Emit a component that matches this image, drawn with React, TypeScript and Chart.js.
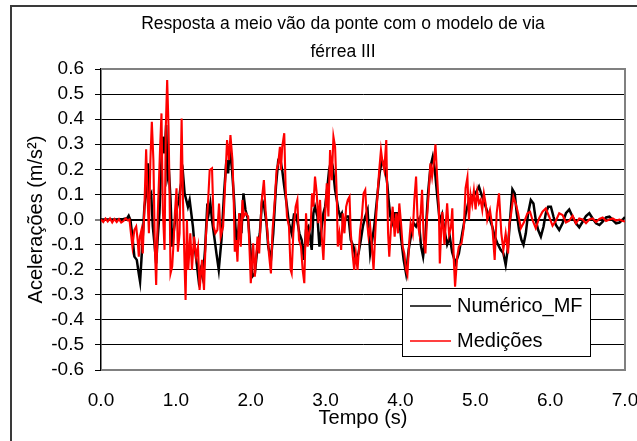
import React, { useEffect, useRef } from "react";
import { Chart, registerables } from "chart.js";

Chart.register(...registerables);

const FONT = "'Liberation Sans', Arial, Helvetica, sans-serif";

const titleLines = ["Resposta a meio vão da ponte com o modelo de via", "férrea III"];
const xAxisTitle = "Tempo (s)";
const yAxisTitle = "Acelerações (m/s²)";
const seriesNames = ["Numérico_MF", "Medições"];
const seriesColors = ["#000000", "#ff0000"];
const xRange = [0, 7];
const yRange = [-0.6, 0.6];

// [time (s), acceleration (m/s2)]
const numericoPts: [number, number][] = [
  [0.0, 0.0], [0.1, 0.0], [0.2, 0.0], [0.3, 0.002], [0.35, 0.005], [0.37, 0.015], [0.393, -0.002],
  [0.415, -0.055], [0.446, -0.148], [0.478, -0.161], [0.504, -0.215], [0.522, -0.248], [0.54, -0.161],
  [0.558, -0.068], [0.58, 0.051], [0.603, 0.104], [0.625, 0.224], [0.647, 0.091], [0.67, 0.104],
  [0.692, -0.028], [0.714, -0.095], [0.737, -0.175], [0.759, -0.068], [0.781, 0.025], [0.804, 0.211],
  [0.826, 0.33], [0.849, 0.264], [0.871, 0.377], [0.889, 0.171], [0.907, 0.197], [0.929, 0.078],
  [0.951, -0.108], [0.969, -0.055], [0.996, 0.012], [1.018, 0.051], [1.041, 0.078], [1.063, 0.131],
  [1.095, 0.184], [1.117, 0.104], [1.139, 0.078], [1.161, 0.051], [1.184, 0.078], [1.206, 0.025],
  [1.228, -0.028], [1.251, -0.108], [1.273, -0.161], [1.304, -0.241], [1.33, -0.2], [1.36, -0.235],
  [1.39, -0.12], [1.421, 0.064], [1.439, 0.025], [1.461, 0.064], [1.483, -0.002], [1.519, -0.082],
  [1.542, -0.135], [1.573, -0.201], [1.609, -0.082], [1.644, 0.104], [1.675, 0.237], [1.698, 0.184],
  [1.72, 0.284], [1.751, 0.197], [1.778, 0.078], [1.796, -0.028], [1.818, -0.108], [1.854, 0.025],
  [1.876, -0.055], [1.903, 0.104], [1.93, 0.038], [1.966, -0.002], [1.997, -0.121], [2.019, -0.228],
  [2.055, -0.215], [2.091, -0.108], [2.122, -0.055], [2.153, 0.078], [2.18, 0.051], [2.211, -0.015],
  [2.234, -0.108], [2.27, -0.161], [2.301, -0.055], [2.337, 0.131], [2.368, 0.237], [2.39, 0.25],
  [2.421, 0.197], [2.448, 0.131], [2.479, 0.064], [2.511, -0.015], [2.546, -0.055], [2.578, 0.02],
  [2.6, 0.02], [2.625, -0.01], [2.65, -0.055], [2.681, -0.082], [2.712, -0.161], [2.739, -0.042],
  [2.77, -0.028], [2.792, -0.068], [2.815, -0.121], [2.837, 0.025], [2.859, 0.051], [2.891, 0.012],
  [2.918, -0.108], [2.949, -0.028], [2.971, 0.025], [2.994, 0.051], [3.025, 0.131], [3.047, 0.197],
  [3.074, 0.237], [3.096, 0.211], [3.127, 0.118], [3.15, 0.078], [3.172, 0.038], [3.194, 0.012],
  [3.217, 0.025], [3.239, -0.028], [3.275, 0.012], [3.306, 0.012], [3.337, -0.082], [3.373, -0.108],
  [3.404, -0.161], [3.44, -0.135], [3.471, -0.082], [3.498, -0.028], [3.53, 0.012], [3.561, 0.038],
  [3.596, -0.135], [3.623, -0.082], [3.65, -0.028], [3.686, 0.078], [3.722, 0.184], [3.753, 0.237],
  [3.784, 0.211], [3.806, 0.184], [3.825, 0.14], [3.842, 0.078], [3.865, 0.012], [3.896, -0.015],
  [3.923, 0.025], [3.954, 0.025], [3.985, -0.002], [4.012, -0.082], [4.043, -0.161], [4.075, -0.215],
  [4.11, -0.121], [4.146, -0.055], [4.177, -0.015], [4.209, -0.028], [4.244, -0.002], [4.276, -0.108],
  [4.303, -0.148], [4.334, -0.068], [4.369, 0.104], [4.401, 0.21], [4.432, 0.25], [4.459, 0.2],
  [4.49, 0.1], [4.526, -0.01], [4.557, 0.02], [4.588, -0.042], [4.624, -0.1], [4.66, -0.07],
  [4.691, -0.13], [4.736, -0.175], [4.781, -0.135], [4.826, -0.055], [4.87, 0.02], [4.915, 0.078],
  [4.959, 0.091], [5.004, 0.104], [5.049, 0.131], [5.093, 0.09], [5.138, 0.051], [5.183, 0.011],
  [5.228, -0.029], [5.259, -0.068], [5.295, -0.095], [5.339, -0.121], [5.375, -0.135], [5.406, -0.181],
  [5.438, -0.108], [5.464, -0.002], [5.496, 0.12], [5.527, 0.104], [5.554, 0.025], [5.585, -0.042],
  [5.617, -0.082], [5.644, -0.101], [5.675, -0.055], [5.706, 0.025], [5.742, 0.078], [5.777, 0.064],
  [5.808, -0.002], [5.84, -0.042], [5.876, -0.068], [5.911, -0.029], [5.942, 0.025], [5.974, 0.051],
  [6.01, 0.051], [6.045, 0.011], [6.077, -0.022], [6.121, -0.042], [6.166, -0.015], [6.211, 0.025],
  [6.255, 0.04], [6.3, 0.011], [6.345, -0.015], [6.389, -0.031], [6.434, -0.009], [6.479, 0.014],
  [6.523, 0.025], [6.568, 0.004], [6.613, -0.015], [6.658, -0.022], [6.702, -0.009], [6.747, 0.008],
  [6.792, 0.011], [6.836, -0.002], [6.881, -0.015], [6.926, -0.012], [6.97, 0.0], [7.0, 0.01],
];

const medicoesPts: [number, number][] = [
  [0.0, 0.0], [0.03, -0.01], [0.06, 0.004], [0.09, -0.008], [0.12, 0.004], [0.15, -0.012], [0.18, 0.002],
  [0.21, -0.01], [0.24, 0.002], [0.27, -0.012], [0.3, -0.006], [0.33, 0.004], [0.36, -0.004], [0.38, 0.0],
  [0.4, -0.055], [0.42, -0.108], [0.445, -0.042], [0.47, -0.028], [0.49, -0.082], [0.505, -0.148],
  [0.52, -0.068], [0.54, -0.042], [0.558, -0.135], [0.58, 0.05], [0.603, 0.28], [0.625, 0.065],
  [0.64, -0.055], [0.66, 0.237], [0.679, 0.39], [0.7, 0.237], [0.719, -0.108], [0.737, -0.261],
  [0.759, 0.025], [0.79, 0.29], [0.808, 0.423], [0.826, 0.038], [0.849, -0.121], [0.866, 0.37],
  [0.884, 0.556], [0.902, 0.37], [0.916, 0.104], [0.929, -0.215], [0.951, -0.188], [0.969, -0.095],
  [0.987, 0.025], [1.009, 0.124], [1.027, -0.128], [1.05, -0.055], [1.077, 0.403], [1.095, 0.078],
  [1.117, -0.188], [1.13, -0.321], [1.148, -0.002], [1.166, -0.201], [1.193, -0.055], [1.215, -0.201],
  [1.242, -0.068], [1.27, -0.15], [1.296, -0.108], [1.317, -0.281], [1.349, -0.161], [1.376, -0.281],
  [1.398, -0.082], [1.429, 0.064], [1.452, 0.197], [1.483, 0.204], [1.506, -0.028], [1.528, -0.055],
  [1.555, -0.042], [1.577, 0.064], [1.599, -0.068], [1.631, -0.028], [1.653, 0.104], [1.684, 0.317],
  [1.711, 0.237], [1.729, 0.337], [1.756, 0.237], [1.773, 0.078], [1.787, -0.128], [1.805, -0.082],
  [1.823, -0.168], [1.845, 0.025], [1.867, -0.108], [1.89, 0.078], [1.907, 0.012], [1.934, 0.025],
  [1.966, 0.012], [1.988, -0.148], [2.001, -0.254], [2.033, -0.095], [2.055, -0.228], [2.091, -0.068],
  [2.113, -0.135], [2.144, 0.064], [2.176, 0.157], [2.198, 0.038], [2.225, -0.055], [2.243, -0.135],
  [2.27, -0.215], [2.292, -0.042], [2.323, 0.078], [2.345, 0.197], [2.368, 0.224], [2.39, 0.29],
  [2.403, 0.197], [2.421, 0.29], [2.448, 0.344], [2.466, 0.131], [2.484, 0.012], [2.511, -0.028],
  [2.533, -0.201], [2.547, -0.215], [2.569, -0.055], [2.6, 0.051], [2.623, 0.078], [2.645, -0.082],
  [2.672, -0.108], [2.694, -0.201], [2.716, -0.254], [2.739, 0.025], [2.761, -0.108], [2.779, -0.055],
  [2.801, -0.028], [2.819, 0.104], [2.837, 0.051], [2.859, 0.171], [2.882, 0.104], [2.904, -0.015],
  [2.926, 0.078], [2.949, -0.068], [2.971, -0.161], [2.994, 0.012], [3.016, 0.144], [3.038, 0.012],
  [3.06, 0.277], [3.083, 0.157], [3.105, 0.33], [3.127, 0.29], [3.15, 0.091], [3.163, -0.108],
  [3.185, -0.055], [3.208, -0.121], [3.23, 0.025], [3.252, -0.055], [3.275, 0.051], [3.297, 0.078],
  [3.32, 0.091], [3.337, -0.055], [3.36, -0.135], [3.382, -0.201], [3.404, -0.135], [3.427, -0.201],
  [3.462, -0.042], [3.485, 0.012], [3.507, 0.104], [3.53, 0.118], [3.552, -0.002], [3.574, -0.068],
  [3.596, -0.028], [3.619, -0.108], [3.641, -0.201], [3.668, -0.028], [3.695, 0.104], [3.717, 0.197],
  [3.74, 0.277], [3.757, 0.237], [3.784, 0.197], [3.811, 0.317], [3.822, 0.131], [3.835, -0.055],
  [3.851, -0.148], [3.874, -0.028], [3.896, 0.051], [3.923, -0.068], [3.945, 0.025], [3.967, -0.055],
  [3.985, 0.064], [4.008, -0.015], [4.03, -0.108], [4.052, -0.135], [4.075, -0.201], [4.093, -0.221],
  [4.119, -0.082], [4.137, -0.015], [4.164, -0.055], [4.186, 0.078], [4.209, 0.171], [4.231, -0.015],
  [4.253, -0.055], [4.276, 0.051], [4.289, 0.118], [4.311, -0.082], [4.334, -0.135], [4.356, 0.012],
  [4.378, 0.104], [4.401, 0.224], [4.423, 0.171], [4.45, 0.237], [4.468, 0.3], [4.49, 0.171],
  [4.513, 0.051], [4.526, -0.175], [4.545, -0.04], [4.56, 0.03], [4.588, -0.1], [4.624, 0.065],
  [4.65, -0.06], [4.675, -0.03], [4.693, 0.045], [4.713, -0.161], [4.73, -0.268], [4.758, -0.15],
  [4.78, -0.108], [4.816, -0.095], [4.847, -0.03], [4.87, 0.125], [4.895, 0.168], [4.915, -0.002],
  [4.937, 0.1], [4.959, 0.06], [4.981, 0.115], [5.004, 0.04], [5.026, 0.11], [5.049, 0.064],
  [5.071, 0.078], [5.093, 0.038], [5.115, 0.104], [5.14, 0.06], [5.16, -0.002], [5.196, 0.038],
  [5.228, -0.029], [5.259, -0.161], [5.286, 0.025], [5.317, 0.104], [5.348, -0.055], [5.375, -0.121],
  [5.406, -0.055], [5.438, -0.135], [5.455, -0.015], [5.473, 0.011], [5.509, 0.091], [5.54, 0.064],
  [5.572, 0.025], [5.608, -0.035], [5.652, -0.01], [5.697, 0.025], [5.732, 0.031], [5.764, -0.002],
  [5.808, -0.035], [5.853, 0.005], [5.898, 0.031], [5.942, 0.044], [5.987, 0.011], [6.032, -0.025],
  [6.077, -0.005], [6.121, 0.025], [6.166, 0.018], [6.211, -0.012], [6.255, -0.005], [6.3, 0.015],
  [6.345, -0.015], [6.389, 0.004], [6.434, 0.0], [6.479, -0.015], [6.523, 0.0], [6.568, 0.004],
  [6.613, -0.01], [6.658, 0.002], [6.702, 0.008], [6.747, -0.006], [6.792, 0.0], [6.836, 0.004],
  [6.881, -0.004], [6.926, 0.0], [6.97, -0.006], [7.0, -0.008],
];

const fmt1 = (v: number | string) => {
  const n = Number(v);
  return (Math.abs(n) < 1e-9 ? 0 : n).toFixed(1);
};

const plotFrame = {
  id: "plotFrame",
  beforeDatasetsDraw(chart: any) {
    const { ctx, chartArea } = chart;
    const { left, top, right, bottom } = chartArea;
    ctx.save();
    ctx.strokeStyle = "#808080";
    ctx.lineWidth = 2;
    ctx.beginPath();
    ctx.moveTo(left, top);
    ctx.lineTo(right, top);
    ctx.lineTo(right, bottom);
    ctx.lineTo(left, bottom);
    ctx.stroke();
    ctx.restore();
  },
};

const legendBox = {
  id: "legendBox",
  afterDraw(chart: any) {
    const { ctx, chartArea } = chart;
    const x0 = chartArea.left + 301;
    const y0 = chartArea.top + 219;
    const w = 188;
    const h = 68;
    ctx.save();
    ctx.fillStyle = "#ffffff";
    ctx.fillRect(x0, y0, w, h);
    ctx.strokeStyle = "#000000";
    ctx.lineWidth = 1;
    ctx.strokeRect(Math.round(x0) + 0.5, Math.round(y0) + 0.5, w, h);
    ctx.font = `20px ${FONT}`;
    ctx.textBaseline = "middle";
    ctx.textAlign = "left";
    chart.data.datasets.forEach((ds: any, i: number) => {
      const ly = y0 + 18 + i * 35;
      ctx.strokeStyle = ds.borderColor;
      ctx.lineWidth = 1.5;
      ctx.beginPath();
      ctx.moveTo(x0 + 8, ly);
      ctx.lineTo(x0 + 49, ly);
      ctx.stroke();
      ctx.fillStyle = "#000000";
      ctx.fillText(ds.label, x0 + 55, ly);
    });
    ctx.restore();
  },
};

export default function App() {
  const ref = useRef<HTMLCanvasElement>(null);

  useEffect(() => {
    const canvas = ref.current;
    if (!canvas) return;
    const toXY = (pts: [number, number][]) => pts.map(([x, y]) => ({ x, y }));
    const chart = new Chart(canvas, {
      type: "line",
      data: {
        datasets: [
          {
            label: seriesNames[0],
            data: toXY(numericoPts),
            borderColor: seriesColors[0],
            borderWidth: 2.5,
            pointRadius: 0,
            tension: 0,
            fill: false,
            order: 1,
            yAxisID: "y",
            xAxisID: "x",
          },
          {
            label: seriesNames[1],
            data: toXY(medicoesPts),
            borderColor: seriesColors[1],
            borderWidth: 2.1,
            pointRadius: 0,
            tension: 0,
            fill: false,
            order: 0,
            yAxisID: "y",
            xAxisID: "x",
          },
        ],
      },
      options: {
        responsive: false,
        animation: false,
        events: [],
        layout: { padding: 0 },
        plugins: {
          legend: { display: false },
          tooltip: { enabled: false },
          title: {
            display: true,
            text: titleLines,
            color: "#000",
            font: { family: FONT, size: 17.5, weight: "normal", lineHeight: "28px" },
            padding: { top: 10, bottom: 3 },
          },
        },
        scales: {
          x: {
            type: "linear",
            position: "bottom",
            min: xRange[0],
            max: xRange[1],
            grid: { display: false, drawTicks: false },
            border: { display: false },
            ticks: {
              stepSize: 1,
              autoSkip: false,
              maxRotation: 0,
              padding: 19,
              color: "#000",
              font: { family: FONT, size: 19 },
              callback: (v: any) => fmt1(v),
            },
            title: {
              display: true,
              text: xAxisTitle,
              color: "#000",
              font: { family: FONT, size: 20 },
              padding: { top: 0, bottom: 11 },
            },
            afterFit: (s: any) => {
              s.height = 71;
            },
          },
          y: {
            type: "linear",
            position: "left",
            min: yRange[0],
            max: yRange[1],
            grid: {
              color: (c: any) => {
                const v = c.tick ? c.tick.value : 0;
                return Math.abs(Math.abs(v) - 0.6) < 1e-6 ? "rgba(0,0,0,0)" : "#000";
              },
              lineWidth: (c: any) => {
                const v = c.tick ? c.tick.value : 1;
                return Math.abs(v) < 1e-9 ? 2 : 1;
              },
              tickColor: "#000",
              tickWidth: 1,
              tickLength: 6,
              drawTicks: true,
            },
            border: { display: true, color: "#000", width: 1.5 },
            ticks: {
              stepSize: 0.1,
              autoSkip: false,
              padding: 11,
              color: "#000",
              font: { family: FONT, size: 19 },
              callback: (v: any) => fmt1(v),
            },
            title: {
              display: true,
              text: yAxisTitle,
              color: "#000",
              font: { family: FONT, size: 20 },
              padding: { top: 24, bottom: 0 },
            },
            afterFit: (s: any) => {
              s.width = 101;
            },
          },
          yRight: {
            type: "linear",
            position: "right",
            display: true,
            grid: { display: false, drawTicks: false },
            border: { display: false },
            ticks: { display: false },
            afterFit: (s: any) => {
              s.width = 61;
            },
          },
        },
      },
      plugins: [plotFrame, legendBox],
    } as any);
    return () => chart.destroy();
  }, []);

  return (
    <div
      style={{
        position: "fixed",
        left: 0,
        top: 0,
        width: 637,
        height: 441,
        overflow: "hidden",
        background: "#ffffff",
      }}
    >
      <div
        style={{
          position: "absolute",
          left: 10,
          top: 5,
          width: 900,
          height: 700,
          borderLeft: "2px solid #3a3a3a",
          borderTop: "2px solid #3a3a3a",
        }}
      />
      <canvas
        ref={ref}
        width={686}
        height={441}
        style={{ position: "absolute", left: 0, top: 0, width: 686, height: 441 }}
      />
    </div>
  );
}
